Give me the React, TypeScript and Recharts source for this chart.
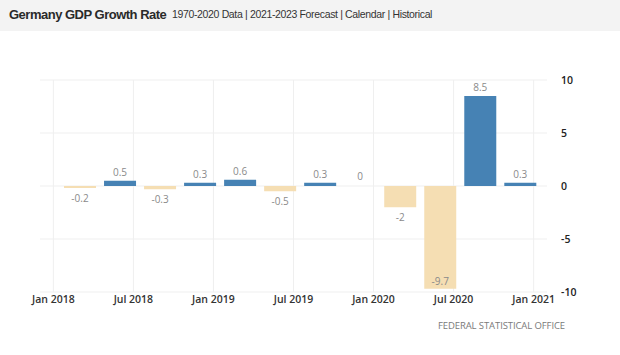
import React from "react";
import { BarChart, Bar, XAxis, YAxis, CartesianGrid, Cell, LabelList } from "recharts";

// quarterly GDP growth (QoQ %), bars sit on the last month of each quarter
const quarters = ["2018Q1", "2018Q2", "2018Q3", "2018Q4", "2019Q1", "2019Q2", "2019Q3", "2019Q4", "2020Q1", "2020Q2", "2020Q3", "2020Q4"];
const monthIndex = [2, 5, 8, 11, 14, 17, 20, 23, 26, 29, 32, 35];
const growth = [-0.2, 0.5, -0.3, 0.3, 0.6, -0.5, 0.3, 0, -2, -9.7, 8.5, 0.3];

const xTicks = [0, 6, 12, 18, 24, 30, 36];
const xTickLabels = ["Jan 2018", "Jul 2018", "Jan 2019", "Jul 2019", "Jan 2020", "Jul 2020", "Jan 2021"];
const yTicks = [-10, -5, 0, 5, 10];

const BLUE = "#4682b4";
const WHEAT = "#f5deb3";
const FONT = "'Open Sans', 'DejaVu Sans', sans-serif";

const data = quarters.map((q, i) => ({ q, m: monthIndex[i], v: growth[i] }));

const PLOT_BOTTOM = 292;

function ValueLabel(props: any) {
  const { x, y, width, height, value } = props;
  const top = Math.min(y, y + height);
  const bottom = Math.max(y, y + height);
  let ty: number;
  if (value >= 0) ty = top - 9;
  else {
    ty = bottom + 10;
    if (ty > PLOT_BOTTOM - 4) ty = bottom - 8;
  }
  return (
    <text x={x + width / 2} y={ty} textAnchor="middle" dominantBaseline="central"
          fill="#8a8a8a" fontSize={10} fontFamily={FONT}>
      {String(value)}
    </text>
  );
}

export default function App() {
  return (
    <div style={{ position: "absolute", left: 0, top: 0, width: 620, height: 355, background: "#fff" }}>
      <div style={{
        position: "absolute", left: 0, top: 0, width: 620, height: 31, background: "#f3f3f3",
        fontFamily: "'Liberation Sans', Arial, sans-serif", color: "#333", whiteSpace: "nowrap",
      }}>
        <span style={{ position: "absolute", left: 9, top: 7, fontSize: 13, fontWeight: "bold", letterSpacing: -0.5, color: "#2a2a2a" }}>
          Germany GDP Growth Rate
        </span>
        <span style={{ position: "absolute", left: 172, top: 8, fontSize: 10.5, letterSpacing: -0.35 }}>
          1970-2020 Data | 2021-2023 Forecast | Calendar | Historical
        </span>
      </div>
      <div style={{ position: "absolute", left: 0, top: 0 }}>
        <BarChart width={620} height={355} data={data}
                  margin={{ top: 80, right: 13, left: 40, bottom: 33 }}>
          <CartesianGrid stroke="#efefef" verticalValues={xTicks} horizontalValues={yTicks} />
          <XAxis type="number" dataKey="m" domain={[-1, 37]} ticks={xTicks} interval={0}
                 allowDataOverflow axisLine={false} tickLine={false} tickSize={0} tickMargin={4} height={30}
                 tickFormatter={(v: number) => xTickLabels[xTicks.indexOf(v)] ?? ""}
                 tick={{ fill: "#333", fontSize: 10.5, fontFamily: FONT, fontWeight: 600 }} />
          <YAxis orientation="right" domain={[-10, 10]} ticks={yTicks} interval={0} width={60}
                 axisLine={false} tickLine={false} tickSize={0} tickMargin={14}
                 tick={{ fill: "#222", fontSize: 10.5, fontFamily: FONT, fontWeight: 600, textAnchor: "start" }} />
          <Bar dataKey="v" barSize={32} minPointSize={1} isAnimationActive={false}>
            {data.map((d) => (
              <Cell key={d.q} fill={d.v > 0 ? BLUE : d.v < 0 ? WHEAT : "transparent"} />
            ))}
            <LabelList dataKey="v" content={<ValueLabel />} />
          </Bar>
        </BarChart>
      </div>
      <div style={{
        position: "absolute", left: 438, top: 319, fontSize: 9.5, color: "#7a7a7a",
        fontFamily: FONT, letterSpacing: -0.1, whiteSpace: "nowrap",
      }}>
        FEDERAL STATISTICAL OFFICE
      </div>
    </div>
  );
}
